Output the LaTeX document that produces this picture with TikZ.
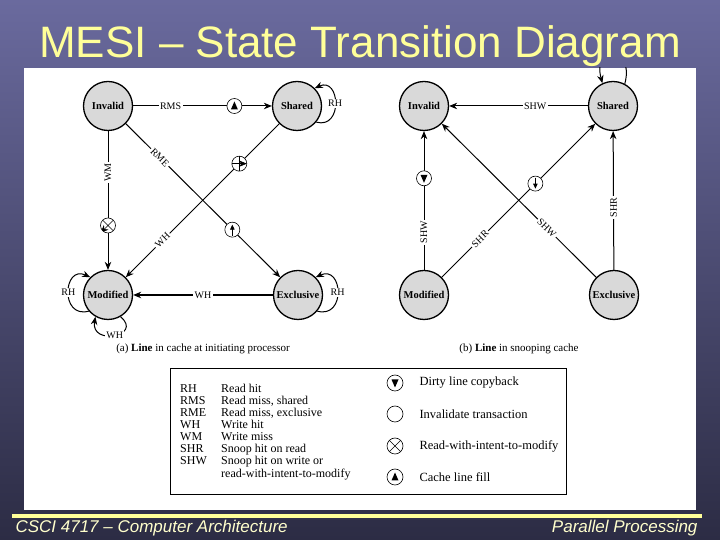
\documentclass[tikz,border=0pt]{standalone}
\usepackage{fontspec}
\setmainfont{Liberation Serif}
\newfontfamily\slidefont{Liberation Sans}
\usetikzlibrary{positioning,arrows.meta,calc,shapes.geometric}
\definecolor{slidetop}{HTML}{6A6A9E}
\definecolor{slidebot}{HTML}{2C2C44}
\definecolor{slideyellow}{HTML}{FFFF99}
\definecolor{footcream}{HTML}{FFFFCC}
\definecolor{statefill}{HTML}{D9D9D9}

\tikzset{
  state/.style={circle,draw,line width=1.3pt,fill=statefill,minimum size=49pt,inner sep=0pt,font=\fontsize{10.5}{12}\selectfont\bfseries},
  trans/.style={-{Stealth[length=8pt,width=6.5pt]},line width=1pt},
  lbl/.style={fill=white,inner sep=1.5pt},
  symbox/.style={circle,draw,fill=white,line width=0.6pt,minimum size=15pt,inner sep=0pt},
  fillsym/.style={symbox,path picture={\fill[black] ($(path picture bounding box.center)+(0pt,4.5pt)$) -- ++(-3.5pt,-8pt) -- ++(7pt,0pt) -- cycle;}},
  copysym/.style={symbox,path picture={\fill[black] ($(path picture bounding box.center)+(0pt,-4.5pt)$) -- ++(-3.5pt,8pt) -- ++(7pt,0pt) -- cycle;}},
  fillarrow/.style={symbox,path picture={\draw[black,fill=black,-{Triangle[length=5pt,width=4.5pt]},line width=0.8pt] ($(path picture bounding box.center)+(0pt,-6pt)$) -- ($(path picture bounding box.center)+(0pt,5pt)$);}},
  copyarrow/.style={symbox,path picture={\draw[black,fill=black,-{Triangle[length=5pt,width=4.5pt]},line width=0.8pt] ($(path picture bounding box.center)+(0pt,6pt)$) -- ($(path picture bounding box.center)+(0pt,-5pt)$);}},
  invsym/.style={symbox,path picture={\draw[line width=0.6pt] (path picture bounding box.north) -- (path picture bounding box.south) (path picture bounding box.west) -- (path picture bounding box.east);}},
  rwsym/.style={symbox,path picture={\draw[line width=0.6pt] (path picture bounding box.north west) -- (path picture bounding box.south east) (path picture bounding box.north east) -- (path picture bounding box.south west);}},
  keytext/.style={anchor=west,font=\fontsize{12.5}{13}\selectfont},
}

\begin{document}
\begin{tikzpicture}[x=1pt,y=1pt,>=Stealth,every node/.style={font=\fontsize{10}{12}\selectfont}]
  \useasboundingbox (0,0) rectangle (720,540);
  % slide background
  \shade[top color=slidetop,bottom color=slidebot] (0,0) rectangle (720,540);
  \node[font=\slidefont\fontsize{44}{48}\selectfont,text=slideyellow,anchor=base] (title) at (360,482) {MESI – State Transition Diagram};
  \fill[white] (24,30) rectangle (696,472);
  \fill[slideyellow] (12,22) rectangle (702,26);
  \node[font=\slidefont\itshape\fontsize{17}{20}\selectfont,text=footcream,anchor=base west] (course) at (12,7) {CSCI 4717 – Computer Architecture};
  \node[font=\slidefont\itshape\fontsize{17}{20}\selectfont,text=footcream,anchor=base east] (topic) at (701,7) {Parallel Processing};

  % (a) initiating processor
  \node[state] (li) at (108,434) {Invalid};
  \node[state] (ls) at (297,434) {Shared};
  \node[state] (lm) at (108,245) {Modified};
  \node[state] (le) at (298,245) {Exclusive};
  \draw[trans] (li) -- node[lbl,pos=0.27] (rmslbl) {RMS} node[fillsym,pos=0.73] (rmsfill) {} (ls);
  \draw[trans] (li) -- node[lbl,pos=0.3,rotate=90] (wmlbl) {WM} node[rwsym,pos=0.68] (wmrw) {} (lm);
  \draw[trans] (li) -- node[lbl,pos=0.22,sloped] (rmelbl) {RME} node[fillarrow,pos=0.69] (rmefill) {} (le);
  \draw[trans] (ls) -- node[invsym,pos=0.26] (whinv) {} node[lbl,pos=0.76,sloped] (whdiag) {WH} (lm);
  \draw[trans,line width=1.6pt] (le) -- node[lbl,pos=0.5] (whlow) {WH} (lm);
  \draw[trans] (ls.-40) .. controls +(-15:28) and +(25:28) .. node[lbl] (lsrh) {RH} (ls.45);
  \draw[trans] (le.-40) .. controls +(-15:30) and +(25:30) .. node[lbl] (lerh) {RH} (le.45);
  \draw[trans] (lm.-140) .. controls +(-165:30) and +(155:30) .. node[lbl] (lmrh) {RH} (lm.135);
  \draw[trans] (lm.-60) .. controls +(-40:30) and +(-100:30) .. node[lbl] (lmwh) {WH} (lm.-120);
  \node[font=\fontsize{11}{13}\selectfont] (capa) at (203,191) {(a) \textbf{Line} in cache at initiating processor};

  % (b) snooping cache
  \node[state] (ri) at (424,434) {Invalid};
  \node[state] (rs) at (613,434) {Shared};
  \node[state] (rm) at (424,245) {Modified};
  \node[state] (re) at (614,245) {Exclusive};
  \draw[trans] (rs) -- node[lbl,pos=0.38] (shwtop) {SHW} (ri);
  \draw[trans] (rm) -- node[lbl,pos=0.27,rotate=90] (shwleft) {SHW} node[copysym,pos=0.66] (shwcopy) {} (ri);
  \draw[trans] (re) -- node[lbl,pos=0.45,rotate=90] (shrright) {SHR} (rs);
  \draw[trans] (rm) -- node[lbl,pos=0.25,sloped] (shrdiag) {SHR} node[copyarrow,pos=0.61] (shrcopy) {} (rs);
  \draw[trans] (re) -- node[lbl,pos=0.32,sloped] (shwdiag) {SHW} (ri);
  \begin{scope}
    \clip (24,30) rectangle (696,472);
    \draw[trans] (rs.62) .. controls +(75:40) and +(105:40) .. (rs.115);
  \end{scope}
  \node[font=\fontsize{11}{13}\selectfont] (capb) at (519,191) {(b) \textbf{Line} in snooping cache};

  % legend
  \node[draw,line width=0.8pt,minimum width=396pt,minimum height=126pt,inner sep=0pt] (legend) at (368,109) {};
  \node[anchor=base west,inner sep=0pt,font=\fontsize{12}{12}\selectfont] (keys) at (180,147) {%
    \begin{tabular}[t]{@{}p{41pt}@{}l@{}}
      RH & Read hit\\
      RMS & Read miss, shared\\
      RME & Read miss, exclusive\\
      WH & Write hit\\
      WM & Write miss\\
      SHR & Snoop hit on read\\
      SHW & Snoop hit on write or\\
          & read-with-intent-to-modify
    \end{tabular}};
  \node[copysym,minimum size=16pt] (keycopy) at (395,157) {};
  \node[keytext] (keycopytxt) at (416,157) {Dirty line copyback};
  \node[symbox,minimum size=16pt] (keyinv) at (395,126) {};
  \node[keytext] (keyinvtxt) at (416,126) {Invalidate transaction};
  \node[rwsym,minimum size=16pt] (keyrw) at (395,94) {};
  \node[keytext] (keyrwtxt) at (416,94) {Read-with-intent-to-modify};
  \node[fillsym,minimum size=16pt] (keyfill) at (395,63) {};
  \node[keytext] (keyfilltxt) at (416,63) {Cache line fill};
\end{tikzpicture}
\end{document}
